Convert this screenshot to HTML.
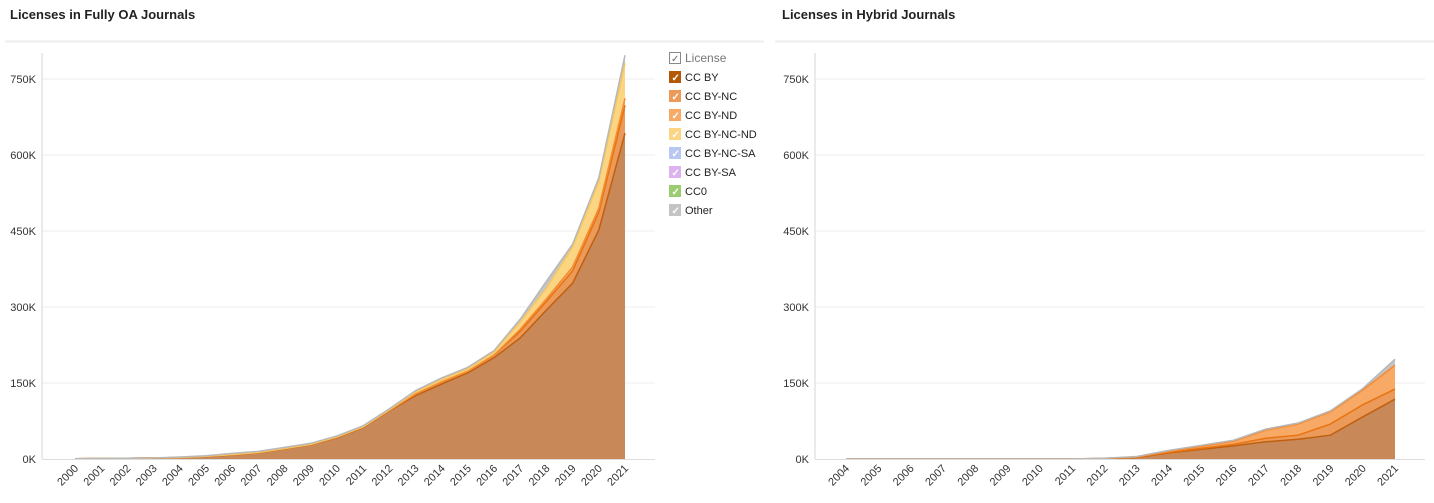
<!DOCTYPE html>
<html><head><meta charset="utf-8"><style>
body{margin:0;width:1434px;height:498px;background:#fff;font-family:"Liberation Sans",sans-serif;overflow:hidden}
svg text{font-family:"Liberation Sans",sans-serif}
</style></head><body>
<svg id="c" width="1434" height="498">
<text x="10" y="19" font-size="13" font-weight="bold" fill="#222">Licenses in Fully OA Journals</text>
<text x="782" y="19" font-size="13" font-weight="bold" fill="#222">Licenses in Hybrid Journals</text>
<line x1="5" y1="41.5" x2="764" y2="41.5" stroke="#eee" stroke-width="2"/>
<line x1="775" y1="41.5" x2="1434" y2="41.5" stroke="#eee" stroke-width="2"/>
<g id="legend"></g>
</svg>
<script>
const yTicks=[0,150,300,450,600,750];
const yTickLabels=["0K","150K","300K","450K","600K","750K"];
const series=["CC BY","CC BY-NC","CC BY-ND","CC BY-NC-ND","CC BY-NC-SA","CC BY-SA","CC0","Other"];
const fills=["#c98857","#eb9a5a","#f7a965","#fcd583","#b9c8f0","#dcb3ee","#9ccc72","#c4c4c4"];
const lines=["#c0600f","#e8730f","#f58b35","#f7c760","#a7b9ec","#d3a0ea","#7cc04b","#b8b8b8"];
const leftYears=[2000,2001,2002,2003,2004,2005,2006,2007,2008,2009,2010,2011,2012,2013,2014,2015,2016,2017,2018,2019,2020,2021];
const leftCCBY=[0.5,1,1.5,2,3,5,8,12,20,28,42,62,95,125,148,170,200,239,294,347,452,643];
const leftNC=[0,0,0,0,0,0.5,0.5,0.5,0.5,0.5,1,1,1,3,4,3,5,13,17,24,35,55];
const leftND=[0,0,0,0,0,0,0,0,0,0,0,0,0,0,0,0,0,4,5,8,8,14];
const leftNCND=[0,0,0,0,0,0,0.5,0.5,0.5,0.5,0.5,0.5,1,4,5,5,6,14,21,39,52,69];
const leftNCSA=[0,0,0,0,0,0,0,0,0,0,0,0,0,0,0,0,0,0,0,0,0,0];
const leftSA=[0,0,0,0,0,0,0,0,0,0,0,0,0,0,0,0,0,0,0,0,0,0];
const leftCC0=[0,0,0,0,0,0,0,0,0,0,0,0,0,0,0,0,0,0,0,0,0,0];
const leftOther=[0,0,0,0,1,1,2,2,2,2,2,2,2,3,3,3,3,6,14,6,8,16];
const rightYears=[2004,2005,2006,2007,2008,2009,2010,2011,2012,2013,2014,2015,2016,2017,2018,2019,2020,2021];
const rightCCBY=[0,0,0,0,0,0,0,0,1,3,12,19,26,34,39,47,83,118];
const rightNC=[0,0,0,0,0,0,0,0,0,0.5,1,2,3,7,8,22,24,20];
const rightND=[0,0,0,0,0,0,0,0,0.5,0.5,2,4,6,16,22,24,29,47];
const rightNCND=[0,0,0,0,0,0,0,0,0,0,0,0,0,0,0,0,0,0];
const rightNCSA=[0,0,0,0,0,0,0,0,0,0,0,0,0,0,0,0,0,0];
const rightSA=[0,0,0,0,0,0,0,0,0,0,0,0,0,0,0,0,0,0];
const rightCC0=[0,0,0,0,0,0,0,0,0,0,0,0,0,0,0,0,0,0];
const rightOther=[0,0,0,0,0,0,0,0,0,1,2,2,2,2,2,2,3,12];

const NS="http://www.w3.org/2000/svg";
const svg=document.getElementById("c");
function mk(t,a,p){const e=document.createElementNS(NS,t);for(const k in a)e.setAttribute(k,a[k]);(p||svg).appendChild(e);return e;}
function draw(cfg){
  const y=v=>459-v*(380/750);
  const x=i=>cfg.x0+i*(cfg.x1-cfg.x0)/(cfg.years.length-1);
  const g=mk("g",{});
  
  
  yTicks.forEach((t,i)=>{
    if(t>0){const gl=mk("line",{x1:cfg.ax,x2:cfg.gx,y1:y(t),y2:y(t),stroke:"#eee"},g);
    
    }
    const tx=mk("text",{x:cfg.ax-6,y:y(t)+4,"font-size":11,"text-anchor":"end",fill:"#333"},g);
    
    
    tx.textContent=yTickLabels[i];
  });
  const base=cfg.years.map(()=>0);
  const layers=[];
  cfg.data.forEach((arr,si)=>{
    const lo=base.slice();
    arr.forEach((v,i)=>base[i]+=v);
    layers.push([lo,base.slice(),si]);
  });
  layers.forEach(([lo,hi,si])=>{
    let d="M"+hi.map((v,i)=>x(i)+","+y(v)).join(" L");
    for(let i=lo.length-1;i>=0;i--)d+=" L"+x(i)+","+y(lo[i]);
    const p=mk("path",{d:d+"Z",fill:fills[si],stroke:"none"},g);
    
    
  });
  layers.forEach(([lo,hi,si])=>{
    if(cfg.data[si].every(v=>v===0))return;
    const l=mk("path",{d:"M"+hi.map((v,i)=>x(i)+","+y(v)).join(" L"),fill:"none",stroke:lines[si],"stroke-width":1.5},g);
    
    
  });
  const ax=mk("line",{x1:cfg.ax,x2:cfg.ax,y1:53,y2:459,stroke:"#e4e4e4","stroke-width":1.5},g);
  
  
  const bx=mk("line",{x1:cfg.ax,x2:cfg.gx,y1:459.5,y2:459.5,stroke:"#ddd"},g);
  
  
  cfg.years.forEach((yr,i)=>{
    const t=mk("text",{x:x(i)+4,y:469,"font-size":11,"text-anchor":"end",fill:"#333",transform:`rotate(-45 ${x(i)+4} 469)`},g);
    
    
    t.textContent=yr;
  });
}
draw({name:"fully-oa-chart",years:leftYears,x0:75,x1:625,ax:42,gx:655,
  data:[leftCCBY,leftNC,leftND,leftNCND,leftNCSA,leftSA,leftCC0,leftOther]});
draw({name:"hybrid-chart",years:rightYears,x0:846,x1:1395,ax:815,gx:1425,
  data:[rightCCBY,rightNC,rightND,rightNCND,rightNCSA,rightSA,rightCC0,rightOther]});
const lg=document.getElementById("legend");
const hb=mk("rect",{x:669.5,y:52.5,width:11,height:11,fill:"#fff",stroke:"#888"},lg);
const ht=mk("text",{x:671,y:62,"font-size":10,fill:"#666"},lg);ht.textContent="✓";
const hl=mk("text",{x:685,y:62,"font-size":12,fill:"#777"},lg);


hl.textContent="License";
series.forEach((s,i)=>{
  const yy=71+i*19;
  const g=mk("g",{},lg);
  
  
  mk("rect",{x:669,y:yy,width:12,height:12,fill:lines[i]==="#c0600f"?"#b35806":fills[i]},g);
  const c=mk("text",{x:671.5,y:yy+10,"font-size":10,fill:"#fff","font-weight":"bold"},g);c.textContent="✓";
  const t=mk("text",{x:685,y:yy+10,"font-size":11,fill:"#222"},g);t.textContent=s;
});
</script>
</body></html>
